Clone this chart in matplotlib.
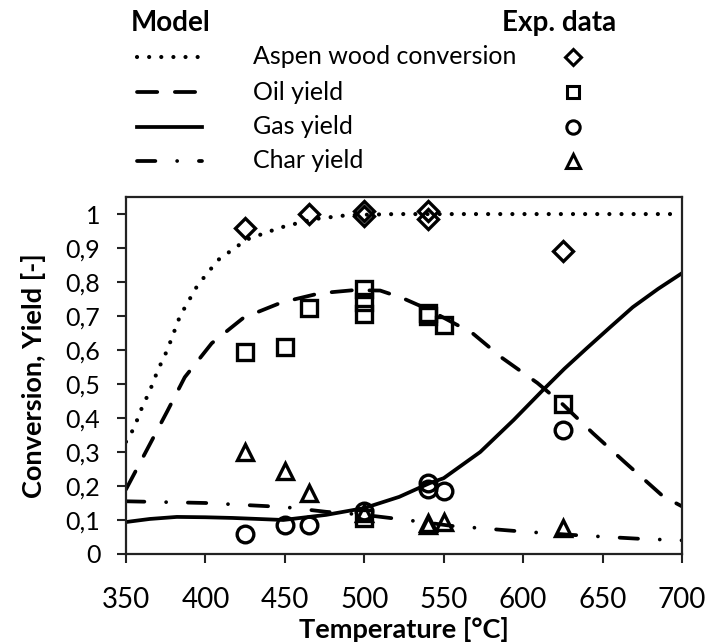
import matplotlib
matplotlib.use("Agg")
import matplotlib.pyplot as plt
from matplotlib.lines import Line2D

plt.rcParams['font.family'] = ['Lato', 'DejaVu Sans']

# model curves
conv_T = [350, 355, 360, 365, 370, 376, 384, 395, 408, 426, 447, 468, 490, 520, 560, 700]
conv_v = [0.33, 0.37, 0.43, 0.48, 0.54, 0.60, 0.70, 0.79, 0.865, 0.925, 0.96, 0.985, 0.997, 1.0, 1.0, 1.0]

oil_T = [350, 363, 376, 387, 404, 424, 448, 472, 493, 510, 524, 540, 568, 587, 609, 625, 644, 664, 688, 700]
oil_v = [0.19, 0.305, 0.42, 0.52, 0.62, 0.695, 0.74, 0.767, 0.776, 0.775, 0.753, 0.72, 0.65, 0.576,
         0.503, 0.44, 0.355, 0.27, 0.17, 0.14]

gas_T = [350, 365, 382, 400, 417, 449, 476, 500, 522, 541, 550, 573, 594, 612, 626, 640, 655, 669, 685, 700]
gas_v = [0.094, 0.103, 0.109, 0.108, 0.106, 0.1, 0.115, 0.135, 0.168, 0.208, 0.223, 0.30, 0.394,
         0.48, 0.545, 0.605, 0.668, 0.726, 0.78, 0.826]

char_T = [350, 400, 450, 476, 500, 516, 540, 556, 573, 594, 612, 631, 653, 672, 700]
char_v = [0.155, 0.15, 0.138, 0.124, 0.115, 0.106, 0.092, 0.082, 0.076, 0.068, 0.062, 0.056,
          0.05, 0.045, 0.04]

# experimental data
exp_conv_T = [425, 465, 500, 500, 540, 540, 625]
exp_conv_v = [0.96, 1.0, 0.995, 1.01, 1.01, 0.985, 0.89]

exp_oil_T = [425, 450, 465, 500, 500, 500, 500, 540, 540, 550, 625]
exp_oil_v = [0.595, 0.61, 0.725, 0.78, 0.74, 0.705, 0.105, 0.71, 0.70, 0.675, 0.44]

exp_gas_T = [425, 450, 465, 500, 540, 540, 550, 625]
exp_gas_v = [0.06, 0.085, 0.085, 0.125, 0.21, 0.19, 0.185, 0.365]

exp_char_T = [425, 450, 465, 500, 540, 540, 550, 625]
exp_char_v = [0.30, 0.245, 0.18, 0.12, 0.09, 0.085, 0.095, 0.075]

x_ticks = [350, 400, 450, 500, 550, 600, 650, 700]
y_ticks = [0, 0.1, 0.2, 0.3, 0.4, 0.5, 0.6, 0.7, 0.8, 0.9, 1.0]

labels = ["Aspen wood conversion", "Oil yield", "Gas yield", "Char yield"]

lw = 2.7
styles = [
    dict(linestyle=(0, (0.01, 2.9)), dash_capstyle='round', lw=3.0),
    dict(linestyle=(0, (5.4, 4.7)), dash_capstyle='round', lw=lw),
    dict(linestyle='-', lw=lw),
    dict(linestyle=(0, (4.9, 5.8, 0.01, 5.8)), dash_capstyle='round', lw=lw),
]
markers = [dict(marker='D', ms=10.5), dict(marker='s', ms=11.5),
           dict(marker='o', ms=12), dict(marker='^', ms=12)]

fig = plt.figure(figsize=(7.13, 6.44), dpi=100)
ax = fig.add_axes([0.1767, 0.1398, 0.7798, 0.5542])

curves = [(conv_T, conv_v), (oil_T, oil_v), (gas_T, gas_v), (char_T, char_v)]
exps = [(exp_conv_T, exp_conv_v), (exp_oil_T, exp_oil_v), (exp_gas_T, exp_gas_v), (exp_char_T, exp_char_v)]

for (t, v), st in zip(curves, styles):
    ax.plot(t, v, color='black', **st, zorder=2)
for (t, v), mk in zip(exps, markers):
    ax.plot(t, v, linestyle='none', mfc='none', mec='black', mew=2.4, **mk, zorder=3, clip_on=False)

ax.set_xlim(350, 700)
ax.set_ylim(0, 1.05)
ax.set_xticks(x_ticks)
ax.set_xticklabels([str(x) for x in x_ticks], fontsize=20)
ax.set_yticks(y_ticks)
ax.set_yticklabels([('%g' % y).replace('.', ',') for y in y_ticks], fontsize=18)
ax.tick_params(direction='out', length=6.5, width=1.5, color='#222222')
ax.tick_params(axis='x', pad=17)
ax.tick_params(axis='y', pad=12)
for s in ax.spines.values():
    s.set_linewidth(1.6)
    s.set_color('#222222')
ax.set_xlabel("Temperature [°C]", fontsize=19.5, fontweight='bold', labelpad=3)
ax.set_ylabel("Conversion, Yield [-]", fontsize=19.5, fontweight='bold', labelpad=14)

# legend built by hand above the plot
fig.text(131 / 713, 1 - 23 / 644, "Model", fontsize=20, fontweight='bold', va='center', ha='left')
fig.text(559 / 713, 1 - 23 / 644, "Exp. data", fontsize=20, fontweight='bold', va='center', ha='center')
rows = [57, 92, 127, 161]
for y, lab, st, mk in zip(rows, labels, styles, markers):
    yf = 1 - y / 644
    fig.add_artist(Line2D([137 / 713, 202 / 713], [yf, yf], color='black', transform=fig.transFigure, **st))
    fig.text(253 / 713, yf, lab, fontsize=18, va='center', ha='left')
    mk2 = dict(mk)
    mk2['ms'] = mk['ms'] * 0.8
    fig.add_artist(Line2D([573 / 713], [yf], linestyle='none', mfc='none', mec='black', mew=2.2,
                          transform=fig.transFigure, **mk2))

fig.savefig("out.png", dpi=100)
